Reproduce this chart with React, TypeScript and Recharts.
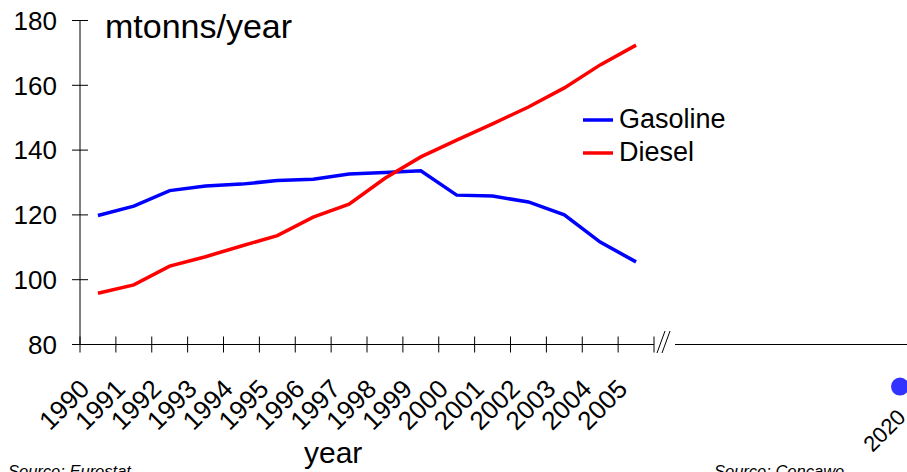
import React from 'react';
import { LineChart, Line, XAxis, YAxis, Legend, ReferenceDot } from 'recharts';

const FONT = '"Liberation Sans", Arial, Helvetica, sans-serif';

// ---- data ----
const years = [1990, 1991, 1992, 1993, 1994, 1995, 1996, 1997, 1998, 1999, 2000, 2001, 2002, 2003, 2004, 2005];
const gasoline = [119.8, 122.7, 127.5, 128.9, 129.5, 130.6, 131.0, 132.6, 133.1, 133.6, 126.1, 125.8, 124.0, 120.0, 111.6, 105.5];
const diesel = [95.8, 98.4, 104.2, 107.1, 110.4, 113.6, 119.3, 123.3, 131.3, 137.9, 143.1, 148.1, 153.3, 159.2, 166.3, 172.4];
const seriesNames = ['Gasoline', 'Diesel'];
const yTicks = [80, 100, 120, 140, 160, 180];
const projectionYears = ['2020'];
const projectionGasoline = [67];

// ---- layout ----
const W = 907;
const H = 472;
const PLOT_LEFT = 80;
const PLOT_TOP = 20.5;
const PLOT_BOTTOM = 344.5;
const PLOT_RIGHT = 654;
const BREAK_RIGHT = 675;
const PROJ_CENTER = 900;
const PROJ_PLOT_RIGHT = 2 * PROJ_CENTER - BREAK_RIGHT;
const PROJ_W = PROJ_PLOT_RIGHT + 5;
const X_AXIS_H = H - PLOT_BOTTOM;
const HALF_BAND = (PLOT_RIGHT - PLOT_LEFT) / years.length / 2;

const rows = years.map((year, i) => ({ year, gasoline: gasoline[i], diesel: diesel[i] }));
const boundaryTicks = [...years.map((y) => y - 0.5), years[years.length - 1] + 0.5];
const projRows = projectionYears.map((year, i) => ({ year, gasoline: projectionGasoline[i] }));

const XTick = (props: any) => {
  const { x, payload } = props;
  const year = payload.value + 0.5;
  const hasLabel = year <= years[years.length - 1];
  const lx = x + HALF_BAND - 7;
  const ly = PLOT_BOTTOM + 46;
  return (
    <g>
      <line x1={x} x2={x} y1={PLOT_BOTTOM - 8} y2={PLOT_BOTTOM + 8} stroke="#000" strokeWidth={1} />
      {hasLabel && (
        <text x={lx} y={ly} textAnchor="end" transform={`rotate(-45 ${lx} ${ly})`} fontFamily={FONT} fontSize={26} fill="#000">
          {year}
        </text>
      )}
    </g>
  );
};

const YTick = (props: any) => {
  const { y, payload } = props;
  return (
    <g>
      <line x1={PLOT_LEFT - 8} x2={PLOT_LEFT + 8} y1={y} y2={y} stroke="#000" strokeWidth={1} />
      <text x={PLOT_LEFT - 23} y={y} dy="0.36em" textAnchor="end" fontFamily={FONT} fontSize={26} fill="#000">
        {payload.value}
      </text>
    </g>
  );
};

const ProjTick = (props: any) => {
  const { x, payload } = props;
  const lx = x + 7;
  const ly = PLOT_BOTTOM + 74;
  return (
    <text x={lx} y={ly} textAnchor="end" transform={`rotate(-45 ${lx} ${ly})`} fontFamily={FONT} fontSize={22} fill="#000">
      {payload.value}
    </text>
  );
};

const renderLegend = (props: any) => {
  const payload = [...(props.payload || [])].sort(
    (a: any, b: any) => seriesNames.indexOf(a.value) - seriesNames.indexOf(b.value)
  );
  return (
    <div style={{ fontFamily: FONT, fontSize: 27, color: '#000' }}>
      {payload.map((p: any) => (
        <div key={p.value} style={{ display: 'flex', alignItems: 'center', height: 32.7, whiteSpace: 'nowrap' }}>
          <svg width={30} height={6} style={{ display: 'block' }}>
            <line x1={0} x2={30} y1={3} y2={3} stroke={p.color} strokeWidth={3.5} />
          </svg>
          <span style={{ marginLeft: 6 }}>{p.value}</span>
        </div>
      ))}
    </div>
  );
};

export default function App() {
  return (
    <div style={{ position: 'fixed', left: 0, top: 0, width: W, height: H, overflow: 'hidden', background: '#fff' }}>
      <div style={{ position: 'absolute', left: 0, top: 0 }}>
        <LineChart width={W} height={H} data={rows} margin={{ top: PLOT_TOP, right: W - PLOT_RIGHT, bottom: 0, left: 0 }}>
          <XAxis
            dataKey="year"
            type="number"
            domain={[boundaryTicks[0], boundaryTicks[boundaryTicks.length - 1]]}
            ticks={boundaryTicks}
            interval={0}
            allowDecimals
            tickLine={false}
            axisLine={{ stroke: '#000', strokeWidth: 1 }}
            tick={<XTick />}
            height={X_AXIS_H}
          />
          <YAxis
            domain={[80, 180]}
            ticks={yTicks}
            interval={0}
            width={PLOT_LEFT}
            tickLine={false}
            axisLine={{ stroke: '#000', strokeWidth: 1 }}
            tick={<YTick />}
          />
          <Line type="linear" dataKey="gasoline" name={seriesNames[0]} stroke="#0000ff" strokeWidth={3.5} dot={false} isAnimationActive={false} />
          <Line type="linear" dataKey="diesel" name={seriesNames[1]} stroke="#ff0000" strokeWidth={3.5} dot={false} isAnimationActive={false} />
          <Legend
            content={renderLegend}
            layout="vertical"
            align="center"
            verticalAlign="middle"
            wrapperStyle={{ left: 583, top: 103.6, width: 220, height: 66 }}
          />
        </LineChart>
      </div>
      <div style={{ position: 'absolute', left: 0, top: 0 }}>
        <LineChart width={PROJ_W} height={H} data={projRows} margin={{ top: PLOT_TOP, right: PROJ_W - PROJ_PLOT_RIGHT, bottom: 0, left: BREAK_RIGHT }}>
          <XAxis
            dataKey="year"
            type="category"
            interval={0}
            tickLine={false}
            axisLine={{ stroke: '#000', strokeWidth: 1 }}
            tick={<ProjTick />}
            height={X_AXIS_H}
          />
          <YAxis hide type="number" domain={[80, 180]} allowDataOverflow width={0} />
          <ReferenceDot
            x={projRows[0].year}
            y={projRows[0].gasoline}
            r={9}
            fill="#3333ff"
            stroke="none"
            ifOverflow="visible"
          />
        </LineChart>
      </div>
      <svg width={W} height={H} style={{ position: 'absolute', left: 0, top: 0, pointerEvents: 'none' }}>
        <text x={105} y={38} fontFamily={FONT} fontSize={34} fill="#000">mtonns/year</text>
        <text x={304} y={463} fontFamily={FONT} fontSize={30} fill="#000">year</text>
        <text x={8} y={477} fontFamily={FONT} fontSize={16.5} fontStyle="italic" fill="#000">Source: Eurostat</text>
        <text x={714} y={477} fontFamily={FONT} fontSize={16.5} fontStyle="italic" fill="#000">Source: Concawe</text>
        <line x1={657} y1={353} x2={665} y2={331} stroke="#000" strokeWidth={1} />
        <line x1={662} y1={353} x2={670} y2={331} stroke="#000" strokeWidth={1} />
      </svg>
    </div>
  );
}
